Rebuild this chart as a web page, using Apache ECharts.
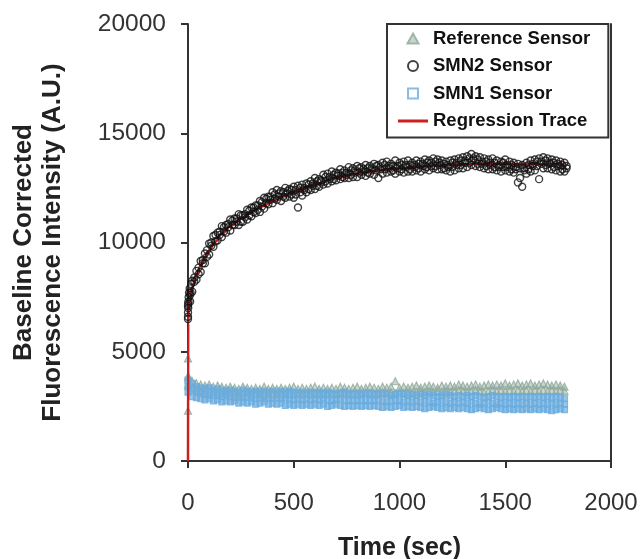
<!DOCTYPE html>
<html>
<head>
<meta charset="utf-8">
<script src="https://cdn.jsdelivr.net/npm/echarts@6/dist/echarts.min.js"></script>
<style>
  html, body { margin: 0; padding: 0; background: #fff; }
  #main { width: 641px; height: 559px; }
</style>
</head>
<body>
<div id="main"></div>
<script>
// sample times (sec)
var times = [
  0, 20, 40, 60, 80, 100, 120, 140, 160, 180,
  200, 220, 240, 260, 280, 300, 320, 340, 360, 380,
  400, 420, 440, 460, 480, 500, 520, 540, 560, 580,
  600, 620, 640, 660, 680, 700, 720, 740, 760, 780,
  800, 820, 840, 860, 880, 900, 920, 940, 960, 980,
  1000, 1020, 1040, 1060, 1080, 1100, 1120, 1140, 1160, 1180,
  1200, 1220, 1240, 1260, 1280, 1300, 1320, 1340, 1360, 1380,
  1400, 1420, 1440, 1460, 1480, 1500, 1520, 1540, 1560, 1580,
  1600, 1620, 1640, 1660, 1680, 1700, 1720, 1740, 1760, 1780
];
// in-between sample times (sec)
var times2 = [
  10, 30, 50, 70, 90, 110, 130, 150, 170, 190,
  210, 230, 250, 270, 290, 310, 330, 350, 370, 390,
  410, 430, 450, 470, 490, 510, 530, 550, 570, 590,
  610, 630, 650, 670, 690, 710, 730, 750, 770, 790,
  810, 830, 850, 870, 890, 910, 930, 950, 970, 990,
  1010, 1030, 1050, 1070, 1090, 1110, 1130, 1150, 1170, 1190,
  1210, 1230, 1250, 1270, 1290, 1310, 1330, 1350, 1370, 1390,
  1410, 1430, 1450, 1470, 1490, 1510, 1530, 1550, 1570, 1590,
  1610, 1630, 1650, 1670, 1690, 1710, 1730, 1750, 1770, 1790
];

// SMN2 sensor readings
var smn2A = [
  7100, 8250, 8700, 9150, 9500, 9950, 10300, 10450, 10750, 10800,
  11050, 11100, 11300, 11250, 11500, 11600, 11700, 11900, 12050, 12100,
  12300, 12400, 12350, 12500, 12450, 12550, 12600, 12650, 12700, 12800,
  12950, 12900, 13100, 13150, 13250, 13200, 13350, 13300, 13450, 13400,
  13500, 13450, 13550, 13500, 13600, 13550, 13650, 13700, 13600, 13750,
  13650, 13700, 13750, 13650, 13750, 13700, 13800, 13750, 13850, 13800,
  13750, 13700, 13750, 13800, 13850, 13900, 13950, 14050, 13950, 13900,
  13850, 13800, 13850, 13750, 13700, 13800, 13700, 13650, 13600, 13550,
  13650, 13750, 13800, 13850, 13900, 13850, 13800, 13750, 13700, 13650
];
var smn2B = [
  6600, 7750, 8300, 8650, 9050, 9450, 9800, 10100, 10250, 10450,
  10550, 10800, 10800, 10950, 11050, 11200, 11350, 11400, 11550, 11750,
  11800, 11950, 11900, 12050, 12100, 12050, 11600, 12150, 12300, 12400,
  12450, 12550, 12650, 12700, 12800, 12850, 12900, 12950, 12950, 13000,
  13000, 13100, 13050, 13150, 13100, 12950, 13150, 13200, 13250, 13150,
  13250, 13200, 13250, 13250, 13300, 13250, 13350, 13300, 13400, 13350,
  13350, 13300, 13250, 13300, 13400, 13400, 13450, 13550, 13500, 13450,
  13400, 13350, 13350, 13300, 13250, 13300, 13250, 13200, 12750, 12550,
  13150, 13250, 13300, 12900, 13400, 13400, 13350, 13300, 13250, 13250
];
var smn2C = [
  7600, 8200, 8850, 9050, 9650, 9850, 10350, 10350, 10700, 10700,
  11000, 10950, 11250, 11150, 11450, 11400, 11700, 11650, 12000, 11950,
  12200, 12100, 12300, 12250, 12400, 12200, 12500, 12400, 12650, 12600,
  12800, 12750, 13000, 12900, 13100, 13050, 13200, 13100, 13300, 13200,
  13400, 13250, 13400, 13300, 13500, 13350, 13550, 13400, 13500, 13400,
  13550, 13450, 13550, 13450, 13600, 13500, 13650, 13500, 13700, 13550,
  13600, 13450, 13650, 13550, 13750, 13650, 13850, 13750, 13800, 13600,
  13700, 13550, 13650, 13450, 13650, 13450, 13550, 13350, 13400, 13300,
  13550, 13500, 13700, 13600, 13750, 13600, 13650, 13500, 13550, 13400
];
var smn2D = [
  7300, 8400, 8550, 9200, 9350, 10000, 10050, 10500, 10500, 10850,
  10800, 11100, 10950, 11300, 11250, 11600, 11500, 11850, 11800, 12100,
  12000, 12250, 12100, 12350, 12200, 12400, 12300, 12500, 12450, 12700,
  12600, 12850, 12800, 13000, 12900, 13150, 13000, 13200, 13100, 13300,
  13200, 13350, 13200, 13400, 13300, 13450, 13350, 13500, 13300, 13500,
  13350, 13550, 13350, 13550, 13400, 13600, 13450, 13650, 13500, 13650,
  13400, 13550, 13450, 13650, 13550, 13750, 13650, 13850, 13600, 13700,
  13500, 13650, 13450, 13550, 13450, 13550, 13350, 13450, 12950, 13400,
  13350, 13600, 13500, 13700, 13550, 13650, 13450, 13600, 13350, 13500
];
var smn2EarlyT = [0, 0, 1, 1, 2, 3, 5, 8, 12, 15];
var smn2EarlyV = [6500, 6800, 7000, 7200, 7300, 7500, 7700, 7900, 7700, 8100];

// Reference sensor
var refA = [
  3800, 3650, 3550, 3500, 3450, 3500, 3400, 3450, 3400, 3350,
  3400, 3350, 3300, 3400, 3350, 3300, 3350, 3300, 3400, 3300,
  3350, 3300, 3350, 3300, 3350, 3400, 3300, 3350, 3300, 3350,
  3400, 3300, 3350, 3300, 3350, 3300, 3400, 3350, 3300, 3350,
  3400, 3300, 3350, 3400, 3350, 3300, 3400, 3350, 3400, 3650,
  3350, 3400, 3350, 3400, 3450, 3350, 3400, 3450, 3400, 3350,
  3450, 3400, 3450, 3400, 3500, 3450, 3400, 3450, 3500, 3400,
  3450, 3500, 3450, 3500, 3450, 3550, 3450, 3500, 3550, 3450,
  3500, 3550, 3450, 3500, 3550, 3500, 3450, 3500, 3450, 3400
];
var refB = [
  3500, 3350, 3250, 3200, 3250, 3150, 3200, 3150, 3100, 3150,
  3100, 3150, 3050, 3100, 3150, 3050, 3100, 3050, 3100, 3050,
  3100, 3050, 3100, 3050, 3100, 3050, 3100, 3050, 3100, 3050,
  3100, 3050, 3100, 3050, 3100, 3050, 3100, 3100, 3050, 3100,
  3050, 3100, 3150, 3100, 3050, 3100, 3150, 3100, 3150, 3100,
  3150, 3100, 3150, 3100, 3150, 3200, 3150, 3200, 3150, 3200,
  3150, 3200, 3150, 3200, 3250, 3200, 3150, 3200, 3250, 3200,
  3150, 3200, 3250, 3200, 3250, 3200, 3250, 3200, 3250, 3200,
  3250, 3200, 3250, 3200, 3250, 3200, 3250, 3200, 3250, 3200
];
var refEarlyT = [0, 0, 1];
var refEarlyV = [2300, 4700, 3900];

// SMN1 sensor readings
var smn1A = [
  3700, 3550, 3400, 3350, 3300, 3350, 3250, 3300, 3250, 3200,
  3250, 3200, 3150, 3250, 3200, 3150, 3200, 3150, 3200, 3150,
  3200, 3150, 3200, 3150, 3200, 3150, 3100, 3150, 3100, 3150,
  3100, 3150, 3100, 3150, 3100, 3050, 3100, 3150, 3100, 3050,
  3100, 3050, 3100, 3050, 3100, 3050, 3100, 3050, 3000, 3050,
  3100, 3050, 3000, 3050, 3000, 3050, 3000, 3050, 3000, 2950,
  3000, 3050, 3000, 2950, 3000, 2950, 3000, 2950, 3000, 2950,
  2900, 2950, 3000, 2950, 2900, 2950, 2900, 2950, 2900, 2950,
  2900, 2950, 2900, 2950, 2900, 2950, 2900, 2950, 2900, 2850
];
var smn1B = [
  3400, 3250, 3150, 3100, 3050, 3000, 3050, 3000, 2950, 3000,
  2950, 2900, 2950, 2900, 2950, 2900, 2850, 2900, 2850, 2900,
  2850, 2900, 2850, 2900, 2850, 2800, 2850, 2800, 2850, 2800,
  2850, 2800, 2850, 2800, 2750, 2800, 2850, 2800, 2750, 2800,
  2750, 2800, 2750, 2800, 2750, 2800, 2750, 2700, 2750, 2800,
  2750, 2700, 2750, 2700, 2750, 2700, 2750, 2700, 2650, 2700,
  2750, 2700, 2650, 2700, 2650, 2700, 2650, 2700, 2650, 2600,
  2650, 2700, 2650, 2600, 2650, 2600, 2650, 2600, 2650, 2600,
  2650, 2600, 2650, 2600, 2650, 2600, 2650, 2600, 2650, 2600
];
var smn1C = [
  3150, 2950, 2900, 2850, 2800, 2850, 2750, 2800, 2700, 2750,
  2700, 2750, 2650, 2700, 2650, 2700, 2600, 2650, 2700, 2600,
  2650, 2600, 2650, 2550, 2600, 2550, 2600, 2550, 2600, 2550,
  2600, 2550, 2600, 2500, 2550, 2600, 2550, 2500, 2550, 2500,
  2550, 2500, 2550, 2500, 2550, 2500, 2450, 2500, 2450, 2500,
  2550, 2450, 2500, 2450, 2500, 2450, 2400, 2450, 2500, 2450,
  2400, 2450, 2400, 2450, 2400, 2450, 2400, 2350, 2400, 2450,
  2400, 2350, 2400, 2450, 2400, 2350, 2400, 2350, 2400, 2350,
  2400, 2350, 2400, 2350, 2400, 2350, 2300, 2350, 2400, 2350
];

// regression trace
var regT = [0, 1, 3, 6, 10, 20, 40, 60, 80, 100, 130, 160, 200, 250, 300, 350,
  400, 450, 500, 600, 700, 800, 900, 1000, 1100, 1200, 1300, 1400, 1500, 1600, 1700, 1780];
var regV = [0, 6300, 6900, 7200, 7450, 7950, 8550, 8950, 9300, 9650, 10050, 10400, 10750, 11100, 11400, 11650,
  11900, 12100, 12300, 12650, 12950, 13150, 13300, 13400, 13480, 13540, 13580, 13600, 13600, 13590, 13580, 13570];

function pairs(xs, ys) {
  return xs.map(function (x, i) { return [x, ys[i]]; });
}

var font = "'Liberation Sans', Arial, sans-serif";

var chart = echarts.init(document.getElementById("main"));

var axisLine = { show: true, lineStyle: { color: "#333", width: 2 } };
var plain = function (v) { return String(v); };

var option = {
  backgroundColor: "#fff",
  animation: false,
  grid: { left: 188, right: 30, top: 24, bottom: 98, outerBoundsMode: "none" },
  legend: {
    orient: "vertical",
    left: 387,
    top: 24,
    padding: [5, 18, 7, 11],
    itemGap: 8.5,
    itemWidth: 30,
    itemHeight: 10,
    symbolKeepAspect: true,
    borderColor: "#333",
    borderWidth: 2,
    backgroundColor: "#fff",
    textStyle: { fontFamily: font, fontSize: 18.5, fontWeight: "bold", color: "#111", lineHeight: 18 },
    data: [
      { name: "Reference Sensor", icon: "path://M5,0L10,9L0,9Z" },
      { name: "SMN2 Sensor" },
      { name: "SMN1 Sensor", icon: "path://M0,0H10V10H0Z", itemStyle: { color: "#fff" } },
      { name: "Regression Trace", icon: "path://M0,0H30V3H0Z", itemStyle: { color: "#cc1f1f" } }
    ]
  },
  xAxis: {
    type: "value",
    min: 0,
    max: 2000,
    interval: 500,
    axisLine: axisLine,
    axisTick: { show: true, length: 7, lineStyle: { color: "#333", width: 2 } },
    axisLabel: { fontFamily: font, fontSize: 24, color: "#333", margin: 30, formatter: plain },
    splitLine: { show: false },
    name: "Time (sec)",
    nameLocation: "middle",
    nameGap: 75,
    nameTextStyle: { fontFamily: font, fontSize: 25, fontWeight: "bold", color: "#222" }
  },
  yAxis: [
    {
      type: "value",
      min: 0,
      max: 20000,
      interval: 5000,
      axisLine: axisLine,
      axisTick: { show: true, length: 7, lineStyle: { color: "#333", width: 2 } },
      axisLabel: { fontFamily: font, fontSize: 24.5, color: "#333", margin: 22, formatter: plain },
      splitLine: { show: false },
      name: "Baseline Corrected\nFluorescence Intensity (A.U.)",
      nameLocation: "middle",
      nameRotate: 90,
      nameGap: 121,
      nameTextStyle: { fontFamily: font, fontSize: 26, fontWeight: "bold", color: "#222", lineHeight: 29, align: "center" }
    },
    {
      type: "value",
      position: "right",
      min: 0,
      max: 20000,
      interval: 5000,
      axisLine: axisLine,
      axisTick: { show: false },
      axisLabel: { show: false },
      splitLine: { show: false }
    }
  ],
  series: [
    {
      name: "Reference Sensor",
      type: "scatter",
      symbol: "triangle",
      symbolSize: 7,
      z: 2,
      itemStyle: { color: "rgba(143,169,155,0.6)", borderColor: "#8fa99b", borderWidth: 1.2 },
      data: pairs(refEarlyT, refEarlyV).concat(pairs(times, refA), pairs(times, refB))
    },
    {
      name: "SMN2 Sensor",
      type: "scatter",
      symbol: "circle",
      symbolSize: 7,
      z: 5,
      itemStyle: { color: "rgba(0,0,0,0)", borderColor: "#111", borderWidth: 1.4 },
      data: pairs(smn2EarlyT, smn2EarlyV).concat(
        pairs(times, smn2A), pairs(times, smn2B), pairs(times2, smn2C), pairs(times2, smn2D))
    },
    {
      name: "SMN1 Sensor",
      type: "scatter",
      symbol: "rect",
      symbolSize: 6,
      z: 3,
      itemStyle: { color: "rgba(106,172,222,0.85)", borderColor: "#6aacde", borderWidth: 1.2 },
      data: pairs(times, smn1A).concat(pairs(times, smn1B), pairs(times, smn1C))
    },
    {
      name: "Regression Trace",
      type: "line",
      symbol: "none",
      smooth: 0.4,
      smoothMonotone: "x",
      z: 4,
      lineStyle: { color: "#cc1f1f", width: 2.5 },
      itemStyle: { color: "#cc1f1f" },
      data: pairs(regT, regV)
    }
  ]
};

chart.setOption(option);
</script>
</body>
</html>
